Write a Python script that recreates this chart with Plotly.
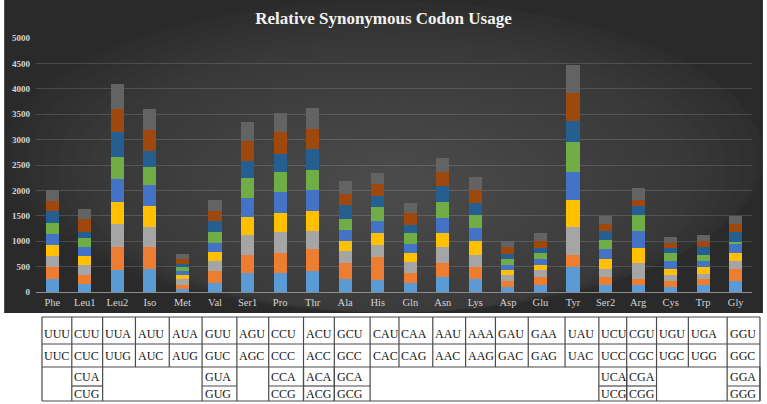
import plotly.graph_objects as go

# ---------------- data ----------------
categories = ["Phe", "Leu1", "Leu2", "Iso", "Met", "Val", "Ser1", "Pro", "Thr", "Ala", "His",
              "Gln", "Asn", "Lys", "Asp", "Glu", "Tyr", "Ser2", "Arg", "Cys", "Trp", "Gly"]

s1 = [250, 158, 434, 447, 66, 184, 368, 382, 421, 263, 237, 184, 289, 250, 105, 145, 487, 145, 132, 105, 132, 224]
s2 = [250, 171, 448, 435, 79, 224, 369, 381, 421, 303, 460, 198, 290, 237, 106, 144, 250, 144, 131, 106, 131, 223]
s3 = [210, 210, 447, 394, 105, 210, 381, 421, 355, 237, 237, 210, 303, 250, 118, 145, 539, 158, 303, 118, 92, 171]
s4 = [224, 172, 447, 408, 79, 171, 356, 369, 395, 210, 237, 171, 289, 276, 105, 105, 540, 211, 302, 132, 132, 158]
s5 = [198, 184, 448, 421, 79, 172, 368, 408, 408, 198, 224, 184, 276, 250, 105, 106, 539, 197, 329, 157, 131, 171]
s6 = [223, 171, 434, 356, 79, 223, 408, 394, 395, 223, 276, 211, 316, 250, 119, 118, 592, 171, 316, 158, 119, 30]
s7 = [237, 118, 487, 315, 66, 211, 329, 369, 421, 277, 224, 158, 329, 237, 92, 105, 421, 171, 171, 92, 145, 207]
s8 = [198, 250, 460, 408, 105, 197, 395, 421, 395, 223, 223, 237, 276, 250, 145, 145, 553, 145, 132, 106, 131, 158]
s9 = [210, 198, 487, 421, 92, 224, 368, 381, 407, 250, 224, 197, 264, 263, 118, 158, 553, 145, 237, 105, 105, 158]

series_values = [s1, s2, s3, s4, s5, s6, s7, s8, s9]
series_names = ["Series1", "Series2", "Series3", "Series4", "Series5",
                "Series6", "Series7", "Series8", "Series9"]

y_tickvals = [0, 500, 1000, 1500, 2000, 2500, 3000, 3500, 4000, 4500, 5000]

codon_row1 = ["UUU", "CUU", "UUA", "AUU", "AUA", "GUU", "AGU", "CCU", "ACU", "GCU", "CAU",
              "CAA", "AAU", "AAA", "GAU", "GAA", "UAU", "UCU", "CGU", "UGU", "UGA", "GGU"]
codon_row2 = ["UUC", "CUC", "UUG", "AUC", "AUG", "GUC", "AGC", "CCC", "ACC", "GCC", "CAC",
              "CAG", "AAC", "AAG", "GAC", "GAG", "UAC", "UCC", "CGC", "UGC", "UGG", "GGC"]
codon_row3 = {1: ("CUA", "CUG"), 5: ("GUA", "GUG"), 7: ("CCA", "CCG"), 8: ("ACA", "ACG"),
              9: ("GCA", "GCG"), 17: ("UCA", "UCG"), 18: ("CGA", "CGG"), 21: ("GGA", "GGG")}

# ---------------- styles / layout ----------------
colors = ["#5B9BD5", "#ED7D31", "#A5A5A5", "#FFC000", "#4472C4",
          "#70AD47", "#255E91", "#9E480E", "#636363"]

WIDTH, HEIGHT = 767, 404
L, R, T, B = 32, 752, 38, 292
PW, PH = R - L, B - T
SERIF = "Liberation Serif, Times New Roman, serif"


def px2x(px):
    return (px - L) / PW


def py2y(py):
    return (B - py) / PH


fig = go.Figure()
for name, vals, col in zip(series_names, series_values, colors):
    fig.add_trace(go.Bar(x=categories, y=vals, name=name, marker_color=col,
                         marker_line_width=0, showlegend=False))

shapes = []
# dark chart panel with a soft radial-looking gradient
PX0, PX1, PY0, PY1 = 0, 763, 0, 313
shapes.append(dict(type="rect", xref="paper", yref="paper", layer="below",
                   x0=px2x(PX0), x1=px2x(PX1), y0=py2y(PY1), y1=py2y(PY0),
                   fillcolor="#2a2a2a", line_width=0))
cx, cy = 390, 185
steps = 26
for i in range(steps):
    f = 1 - i / steps
    rx, ry = 388 * f + 8, 185 * f + 5
    shapes.append(dict(type="circle", xref="paper", yref="paper", layer="below",
                       x0=px2x(max(cx - rx, PX0)), x1=px2x(min(cx + rx, PX1)),
                       y0=py2y(min(cy + ry, PY1)), y1=py2y(max(cy - ry, PY0)),
                       fillcolor="rgba(84,84,84,0.055)", line_width=0))

# table
col_edges = [38, 68, 99, 132, 166, 199, 234, 266, 301, 332, 368, 397, 431, 464, 494,
             527, 564, 598, 626, 656, 688, 727, 760]
ty0, ty1, ty2, ty3, ty4 = 317, 344, 367, 386, 401
lc = dict(color="#4a4a4a", width=1.2)


def hline(xa, xb, yp):
    shapes.append(dict(type="line", xref="paper", yref="paper",
                       x0=px2x(xa), x1=px2x(xb), y0=py2y(yp), y1=py2y(yp), line=lc))


def vline(xp, ya, yb):
    shapes.append(dict(type="line", xref="paper", yref="paper",
                       x0=px2x(xp), x1=px2x(xp), y0=py2y(ya), y1=py2y(yb), line=lc))


for yp in (ty0, ty1, ty2, ty4):
    hline(col_edges[0], col_edges[-1], yp)
for xp in col_edges:
    vline(xp, ty0, ty2)
vline(col_edges[0], ty2, ty4)
vline(col_edges[-1], ty2, ty4)
for idx in codon_row3:
    vline(col_edges[idx], ty2, ty4)
    vline(col_edges[idx + 1], ty2, ty4)
    hline(col_edges[idx], col_edges[idx + 1], ty3)

annotations = []
tfont = dict(family=SERIF, size=12, color="#111111")


def cell_text(txt, idx, yp):
    annotations.append(dict(text=txt, xref="paper", yref="paper", x=px2x(col_edges[idx] + 0.5),
                            y=py2y(yp), xanchor="left", yanchor="middle", showarrow=False,
                            font=tfont))


for i, c in enumerate(codon_row1):
    cell_text(c, i, 334)
for i, c in enumerate(codon_row2):
    cell_text(c, i, 356)
for i, (a, b) in codon_row3.items():
    cell_text(a, i, 377)
    cell_text(b, i, 393.5)

fig.update_layout(
    width=WIDTH, height=HEIGHT,
    margin=dict(l=L, r=WIDTH - R, t=T, b=HEIGHT - B, pad=0),
    paper_bgcolor="white", plot_bgcolor="rgba(0,0,0,0)",
    barmode="stack", bargap=0.6,
    title=dict(text="<b>Relative Synonymous Codon Usage</b>", x=0.5, xanchor="center",
               y=1 - 18 / HEIGHT, yanchor="middle",
               font=dict(family=SERIF, size=17, color="#f2f2f2")),
    shapes=shapes, annotations=annotations,
)
fig.update_xaxes(showgrid=False, showline=True, linecolor="#8c8c8c", linewidth=1.2,
                 ticks="", tickfont=dict(family=SERIF, size=10.5, color="#d4d4d4"),
                 fixedrange=True)
fig.update_yaxes(range=[0, 5000], tickvals=y_tickvals, showgrid=True,
                 gridcolor="rgba(255,255,255,0.14)", gridwidth=1, zeroline=False,
                 showline=False, ticks="",
                 tickfont=dict(family=SERIF, size=9, color="#d4d4d4", weight="bold"),
                 ticklabelstandoff=5, fixedrange=True)

fig.write_html("out.html", config={"displayModeBar": False},
               post_script="document.body.style.margin='0';document.body.style.padding='0';")
